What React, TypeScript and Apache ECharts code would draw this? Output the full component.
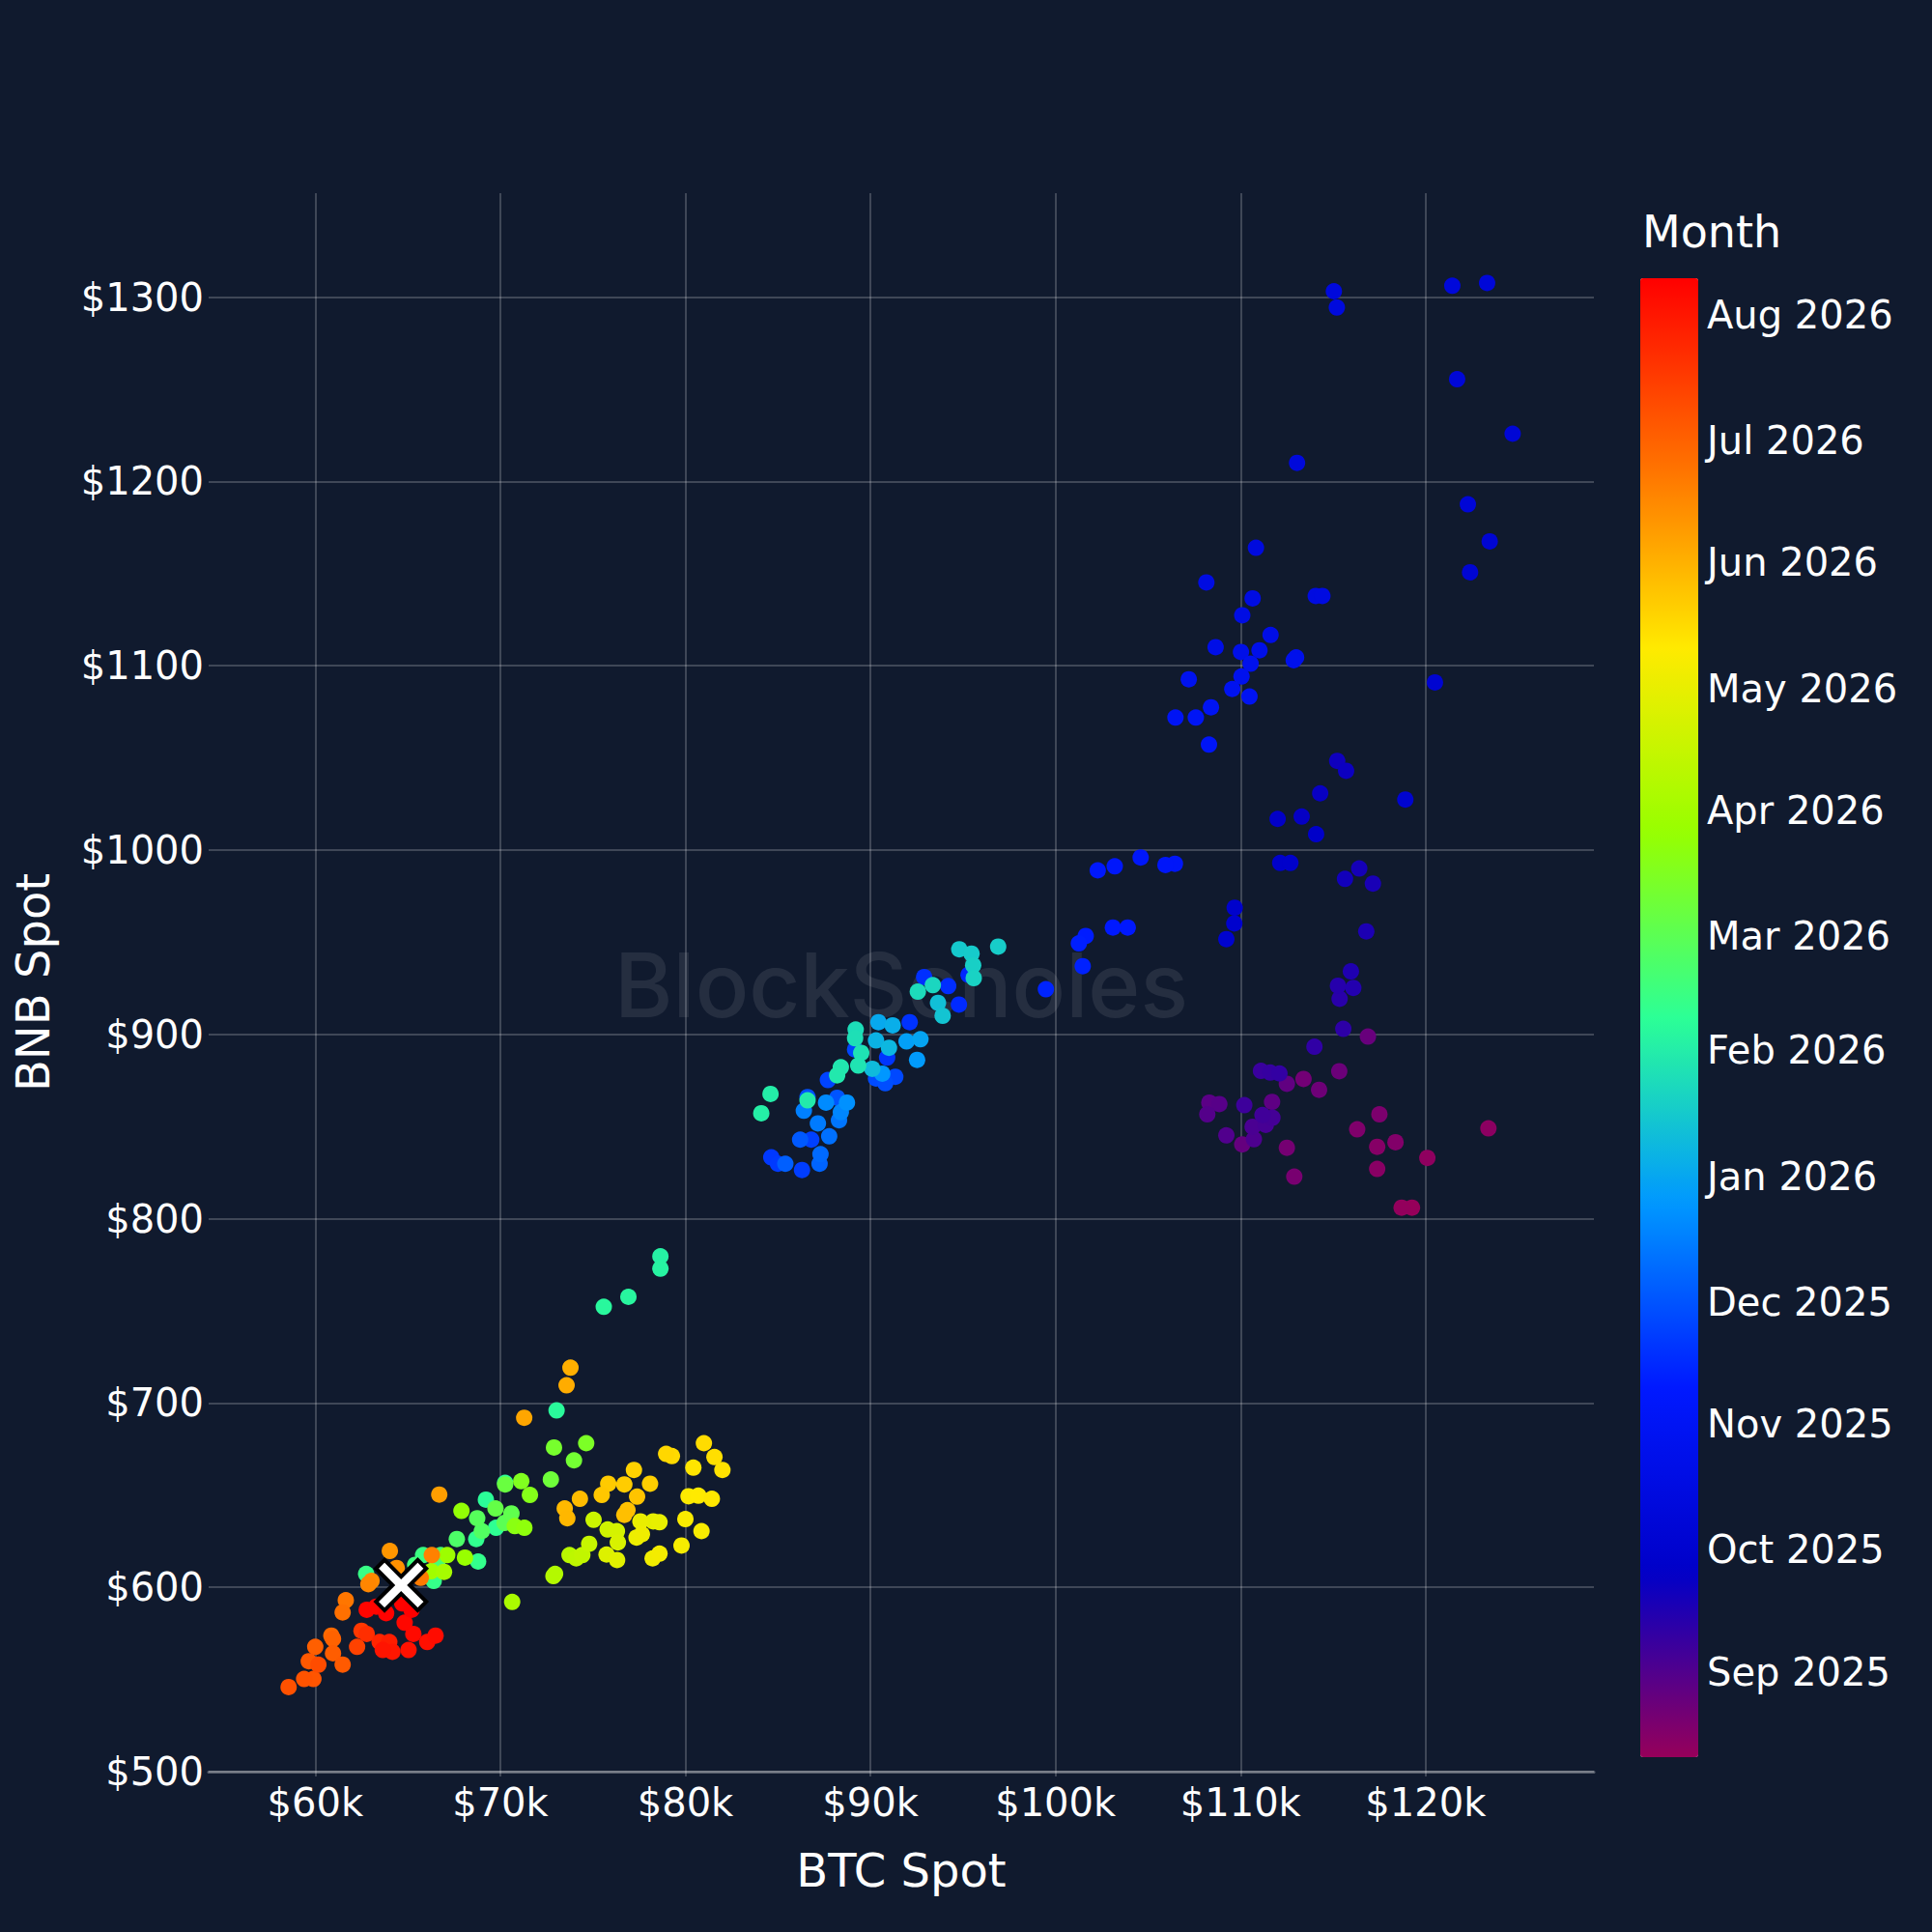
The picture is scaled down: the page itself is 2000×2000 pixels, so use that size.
import React, { useEffect, useRef } from "react";
import * as echarts from "echarts";

// [day of month, BTC spot ($k), BNB spot ($)]
const aug2025 = [
  [11, 119.26, 806], [12, 118.7, 806], [13, 120.09, 833], [14, 123.39, 849], [15, 117.38, 827],
  [16, 117.38, 839], [17, 118.37, 841.5], [18, 116.3, 848.5], [19, 117.5, 856.6], [20, 112.9, 822.8],
  [21, 112.5, 838.5], [22, 113.4, 875.8], [23, 114.24, 869.9], [24, 115.33, 880], [25, 116.88, 898.8],
  [26, 110.09, 840.3], [27, 112.5, 873.2], [28, 111.7, 863.4], [29, 108.31, 863], [30, 108.85, 862.2],
  [31, 108.2, 856.6],
];
const sep2025 = [
  [1, 109.23, 845.2], [2, 110.72, 843.1], [3, 110.65, 849.9], [4, 111.36, 850.9], [5, 111.72, 854.8],
  [6, 111.18, 856.2], [7, 110.2, 861.6], [8, 111.1, 880.2], [9, 111.6, 879.3], [10, 112.1, 878.8],
  [11, 113.99, 893.3], [12, 115.55, 903], [13, 115.35, 919.3], [14, 115.26, 926.4], [15, 116.09, 925.2],
  [16, 115.96, 934.2], [17, 116.79, 955.9], [18, 117.15, 981.8], [19, 116.41, 990], [20, 115.64, 984.4],
  [21, 115.22, 1048.4], [22, 115.7, 1043], [23, 114.3, 1030.8], [24, 113.3, 1018.2], [25, 112.0, 1016.9],
  [26, 114.08, 1008.6], [27, 112.14, 993], [28, 112.69, 993], [29, 109.68, 968.7], [30, 109.66, 960.2],
];
const oct2025 = [
  [1, 109.23, 951.7], [2, 118.9, 1027.4], [3, 120.5, 1091], [4, 122.4, 1150.7], [5, 123.46, 1167.5],
  [6, 124.7, 1225.9], [7, 122.28, 1187.6], [8, 121.7, 1255.5], [9, 123.32, 1307.7], [10, 121.44, 1306.2],
  [11, 113.05, 1210.1], [12, 115.04, 1303.2], [13, 115.2, 1294.4], [14, 110.83, 1164], [15, 114.06, 1137.9],
  [16, 114.42, 1137.9], [17, 108.15, 1145.2], [18, 110.65, 1136.6], [19, 110.09, 1127.4], [20, 111.62, 1116.7],
  [21, 108.65, 1110.1], [22, 110.02, 1107.5], [23, 111.02, 1108.4], [24, 113.0, 1104.5], [25, 112.87, 1103],
  [26, 110.54, 1101.1], [27, 110.05, 1094.2], [28, 107.2, 1092.7], [29, 109.55, 1087.4], [30, 110.48, 1083.3],
  [31, 108.4, 1077.5],
];
const nov2025 = [
  [1, 106.48, 1071.9], [2, 107.58, 1071.9], [3, 108.29, 1057.2], [4, 106.45, 992.6], [5, 105.94, 991.9],
  [6, 104.6, 996], [7, 103.2, 991.2], [8, 102.28, 989], [9, 103.9, 958], [10, 103.1, 958],
  [11, 101.63, 953.4], [12, 101.26, 949.4], [13, 101.47, 937], [14, 99.48, 924.5], [15, 95.3, 932.3],
  [16, 94.78, 916.2], [17, 94.2, 926.2], [18, 92.9, 931.1], [19, 92.12, 906.6], [20, 90.9, 887.4],
  [21, 84.64, 833.3], [22, 85.0, 829.8], [23, 86.3, 826.4], [24, 86.8, 842.9], [25, 87.7, 875.2],
  [26, 89.17, 891.8], [27, 91.34, 877], [28, 90.3, 876.1], [29, 90.8, 873.5], [30, 86.6, 866],
];
const dec2025 = [
  [1, 88.2, 865.6], [3, 86.2, 842.9], [5, 85.4, 829.8], [7, 87.25, 829.8], [9, 87.3, 835],
  [11, 87.77, 844.7], [13, 88.3, 853.4], [15, 87.16, 851.7], [17, 86.4, 858.6], [19, 88.4, 857.8],
  [21, 87.6, 863], [23, 88.73, 863], [25, 90.64, 878.7], [27, 92.52, 886.2], [29, 91.95, 896.2],
  [31, 92.7, 897.4],
];
const jan2026 = [
  [2, 90.43, 906.6], [4, 91.2, 904.9], [6, 90.3, 896.7], [8, 91.0, 892.7], [10, 90.1, 881.3],
  [12, 93.65, 917.1], [14, 93.9, 910.1], [16, 94.8, 946.2], [17, 95.46, 943.8], [18, 96.9, 947.6],
  [19, 95.55, 937.5], [20, 95.58, 930.5], [22, 93.37, 926.7], [24, 92.56, 923.2], [25, 89.2, 902.6],
  [26, 89.17, 897.9], [27, 89.5, 890], [28, 89.34, 883.1], [29, 88.4, 882.2], [30, 88.2, 877.8],
  [31, 86.6, 864.2],
];
const feb2026 = [
  [1, 84.6, 867.7], [2, 84.1, 857.2], [3, 78.65, 779.6], [4, 78.65, 772.9], [5, 76.92, 757.6],
  [6, 75.59, 752.2], [7, 73.04, 696], [8, 69.22, 647.6], [9, 70.26, 656.7], [10, 69.77, 632.3],
  [11, 68.7, 626.2], [12, 68.8, 614], [13, 66.4, 603.5], [14, 62.75, 607.3], [15, 65.83, 617.5],
  [17, 65.4, 612.2], [19, 66.6, 612.2], [21, 66.78, 617.5], [23, 67.65, 626.2], [25, 69.0, 630.5],
  [27, 68.75, 637.5],
];
const mar2026 = [
  [1, 70.23, 634.9], [3, 70.6, 640.1], [5, 69.74, 642.8], [7, 70.26, 655.8], [9, 72.73, 658.5],
  [11, 73.98, 668.9], [13, 72.9, 675.9], [15, 74.64, 678.2], [17, 71.13, 657.6], [19, 71.6, 650.1],
  [21, 70.78, 633.2], [23, 71.3, 632.3], [25, 67.9, 641.5], [27, 68.09, 616.1], [29, 67.13, 617.5],
  [31, 66.26, 608.7],
];
const apr2026 = [
  [2, 66.96, 608.4], [4, 70.64, 592.1], [6, 72.96, 607.3], [8, 72.87, 606.1], [10, 73.74, 617.5],
  [12, 74.1, 615.7], [14, 74.43, 617.5], [16, 74.8, 623.6], [18, 75.04, 636.6], [20, 75.8, 631.4],
  [22, 76.3, 630.5], [24, 76.35, 624.4], [26, 75.74, 617.8], [28, 76.31, 614.8], [30, 78.26, 635.8],
];
const may2026 = [
  [1, 78.6, 635.3], [2, 77.57, 635.8], [3, 77.36, 627], [4, 77.65, 628.8], [5, 78.23, 615.7],
  [6, 78.6, 618.3], [7, 79.79, 622.7], [8, 80.87, 630.5], [9, 80.0, 637], [10, 80.17, 649.4],
  [11, 80.7, 649.7], [12, 81.43, 648], [13, 80.43, 664.9], [14, 82.0, 663.7], [15, 81.57, 670.7],
  [16, 81.0, 678.2], [17, 79.27, 671.2], [18, 78.96, 672.4], [20, 77.22, 663.7], [21, 78.09, 656.2],
  [22, 76.7, 655.8], [23, 75.83, 656.2], [24, 75.48, 650.1], [25, 77.39, 649.2], [26, 76.87, 641.9],
  [27, 76.7, 639.3], [28, 74.3, 648], [29, 73.48, 642.8], [30, 73.62, 637.5],
];
const jun2026 = [
  [2, 73.79, 719.2], [3, 73.58, 709.6], [5, 71.29, 692], [8, 66.7, 650.3], [11, 64.03, 619.7],
  [13, 64.4, 610.5], [15, 63.04, 603.5], [17, 62.87, 601.7], [19, 66.3, 617.5], [21, 65.7, 605.2],
  [23, 61.65, 593], [25, 61.48, 586.4], [28, 60.87, 573.8],
];
const jul2026 = [
  [1, 60.96, 572], [2, 60.0, 567.7], [3, 60.96, 564.2], [4, 61.48, 558.1], [5, 59.65, 559.9],
  [6, 59.9, 550.3], [7, 59.4, 550.3], [8, 58.56, 545.9], [10, 60.17, 558], [14, 62.26, 567.7],
  [18, 62.5, 576.4], [22, 62.78, 574.7], [26, 63.48, 570.3], [29, 64.0, 570.3],
];
const aug2026 = [
  [1, 64.17, 565], [2, 63.65, 566], [3, 65.04, 566], [4, 66.05, 570.3], [5, 66.5, 573.8],
  [6, 65.3, 574.7], [7, 64.83, 580.8], [8, 62.78, 587.8], [8, 63.3, 589.5],
  [9, 63.83, 586], [9, 64.7, 591.3], [10, 65.2, 587.8],
];

// latest observation, highlighted with a cross: [BTC $k, BNB $]
const latestPoint = [64.64, 601.2];

const monthBlocks: [number, number, number[][]][] = [
  [2025, 7, aug2025], [2025, 8, sep2025], [2025, 9, oct2025], [2025, 10, nov2025],
  [2025, 11, dec2025], [2026, 0, jan2026], [2026, 1, feb2026], [2026, 2, mar2026],
  [2026, 3, apr2026], [2026, 4, may2026], [2026, 5, jun2026], [2026, 6, jul2026],
  [2026, 7, aug2026],
];

const xTickValues = [60, 70, 80, 90, 100, 110, 120];
const yTickValues = [500, 600, 700, 800, 900, 1000, 1100, 1200, 1300];
const colorRange = [
  "rgb(150,0,90)", "rgb(0,0,200)", "rgb(0,25,255)", "rgb(0,152,255)", "rgb(44,255,150)",
  "rgb(151,255,0)", "rgb(255,234,0)", "rgb(255,111,0)", "rgb(255,0,0)",
];
const colorMin = Date.UTC(2025, 7, 11);
const colorMax = Date.UTC(2026, 7, 10);
const monthTicks = [
  [2025, 8], [2025, 9], [2025, 10], [2025, 11], [2026, 0], [2026, 1],
  [2026, 2], [2026, 3], [2026, 4], [2026, 5], [2026, 6], [2026, 7],
];
const MONTH_NAMES = ["Jan", "Feb", "Mar", "Apr", "May", "Jun", "Jul", "Aug", "Sep", "Oct", "Nov", "Dec"];

const FONT = "DejaVu Sans";
const BG = "#101a2e";
const GRID_COLOR = "rgba(255,255,255,0.2)";

const X_PATH =
  "path://M0,17 L17,0 L50,33 L83,0 L100,17 L67,50 L100,83 L83,100 L50,67 L17,100 L0,83 L33,50 Z";

export default function App() {
  const ref = useRef<HTMLDivElement>(null);

  useEffect(() => {
    if (!ref.current) return;
    const chart = echarts.init(ref.current, undefined, { renderer: "svg" });

    const data: number[][] = [];
    monthBlocks.forEach(([y, m, pts]) => {
      pts.forEach(([d, btc, bnb]) => {
        data.push([btc, bnb, Date.UTC(y, m, d)]);
      });
    });

    const option: any = {
      animation: false,
      backgroundColor: BG,
      textStyle: { fontFamily: FONT, color: "#ffffff" },
      title: {
        text: "Month",
        left: 1700,
        top: 217,
        padding: 0,
        textStyle: { fontFamily: FONT, fontSize: 46, fontWeight: "normal", color: "#ffffff" },
      },
      grid: [
        { left: 216, right: 350, top: 200, bottom: 166, outerBoundsMode: "none", containLabel: false },
        { left: 1698, top: 288, width: 60, height: 1531, outerBoundsMode: "none", containLabel: false },
      ],
      xAxis: [
        {
          type: "value",
          gridIndex: 0,
          min: 54.24,
          max: 129.09,
          name: "BTC Spot",
          nameLocation: "middle",
          nameGap: 78,
          nameTextStyle: { fontFamily: FONT, fontSize: 48, color: "#ffffff" },
          axisLine: { show: true, lineStyle: { color: "rgba(255,255,255,0.3)", width: 3 } },
          axisTick: { show: true, length: 5, customValues: xTickValues, lineStyle: { color: GRID_COLOR, width: 2 } },
          axisLabel: {
            customValues: xTickValues,
            formatter: (v: number) => `$${v}k`,
            fontFamily: FONT,
            fontSize: 40,
            color: "#ffffff",
            margin: 12,
          },
          splitLine: { show: true, lineStyle: { color: GRID_COLOR, width: 2 } },
        },
        { type: "value", gridIndex: 1, show: false, min: 0, max: 1 },
      ],
      yAxis: [
        {
          type: "value",
          gridIndex: 0,
          min: 500,
          max: 1356.4,
          name: "BNB Spot",
          nameLocation: "middle",
          nameGap: 158,
          nameRotate: 90,
          nameTextStyle: { fontFamily: FONT, fontSize: 48, color: "#ffffff" },
          axisLine: { show: false },
          axisTick: { show: false, customValues: yTickValues },
          axisLabel: {
            customValues: yTickValues,
            formatter: (v: number) => `$${v}`,
            fontFamily: FONT,
            fontSize: 40,
            color: "#ffffff",
            margin: 5,
          },
          splitLine: { show: true, lineStyle: { color: GRID_COLOR, width: 2 } },
        },
        {
          type: "value",
          gridIndex: 1,
          position: "right",
          min: colorMin,
          max: colorMax,
          axisLine: { show: false },
          axisTick: { show: false },
          splitLine: { show: false },
          axisLabel: {
            customValues: monthTicks.map(([y, m]) => Date.UTC(y, m, 1)),
            formatter: (v: number) => {
              const d = new Date(v);
              return `${MONTH_NAMES[d.getUTCMonth()]} ${d.getUTCFullYear()}`;
            },
            fontFamily: FONT,
            fontSize: 40,
            color: "#ffffff",
            margin: 9,
          },
        },
      ],
      visualMap: {
        type: "continuous",
        seriesIndex: 0,
        dimension: 2,
        min: colorMin,
        max: colorMax,
        show: true,
        calculable: false,
        hoverLink: false,
        left: 1698,
        top: 288,
        padding: 0,
        itemWidth: 60,
        itemHeight: 1531,
        text: ["", ""],
        showLabel: false,
        inRange: { color: colorRange },
      },
      graphic: [
        {
          type: "text",
          z: 1,
          silent: true,
          x: 933,
          y: 1019,
          style: {
            text: "BlockScholes",
            fontFamily: "Inter",
            fontWeight: 500,
            fontSize: 92,
            fill: "rgba(255,255,255,0.09)",
            align: "center",
            verticalAlign: "middle",
          },
        },
      ],
      series: [
        {
          type: "scatter",
          xAxisIndex: 0,
          yAxisIndex: 0,
          symbol: "circle",
          symbolSize: 17,
          itemStyle: { opacity: 1 },
          data,
          z: 3,
        },
        {
          type: "scatter",
          xAxisIndex: 0,
          yAxisIndex: 0,
          symbol: X_PATH,
          symbolSize: 52,
          data: [latestPoint],
          itemStyle: { color: "#ffffff", borderColor: "#000000", borderWidth: 4, opacity: 1 },
          z: 4,
        },
      ],
    };

    chart.setOption(option);
    return () => chart.dispose();
  }, []);

  return (
    <div
      ref={ref}
      style={{ position: "fixed", left: 0, top: 0, width: 2000, height: 2000 }}
    />
  );
}
